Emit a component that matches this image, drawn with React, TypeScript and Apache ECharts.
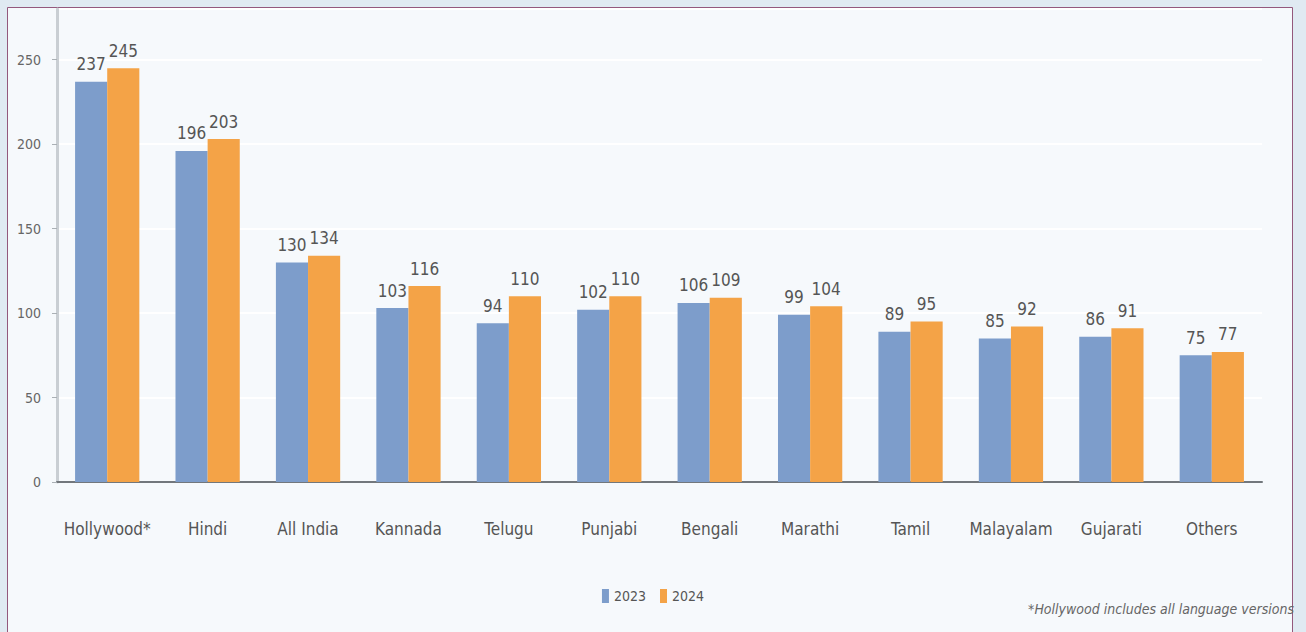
import React, { useEffect, useRef } from "react";
import * as echarts from "echarts";

const categories = ["Hollywood*", "Hindi", "All India", "Kannada", "Telugu", "Punjabi", "Bengali", "Marathi", "Tamil", "Malayalam", "Gujarati", "Others"];
const series2023 = [237, 196, 130, 103, 94, 102, 106, 99, 89, 85, 86, 75];
const series2024 = [245, 203, 134, 116, 110, 110, 109, 104, 95, 92, 91, 77];
const seriesNames = ["2023", "2024"];
const footnote = "*Hollywood includes all language versions";

const FONT = "'Liberation Sans Narrow', 'DejaVu Sans Condensed', 'Liberation Sans', sans-serif";

export default function App() {
  const ref = useRef<HTMLDivElement>(null);
  useEffect(() => {
    if (!ref.current) return;
    const chart = echarts.init(ref.current, undefined, { renderer: "svg" });
    const labelStyle = {
      show: true,
      position: "top" as const,
      distance: 9,
      color: "#555",
      fontSize: 17,
      fontFamily: FONT,
    };
    chart.setOption({
      animation: false,
      backgroundColor: "#e0eaf2",
      textStyle: { fontFamily: FONT },
      graphic: [
        {
          type: "rect",
          z: -10,
          silent: true,
          shape: { x: 7.5, y: 7.5, width: 1285, height: 640 },
          style: { fill: "#f6f9fc", stroke: "#94587c", lineWidth: 1 },
        },
        {
          type: "text",
          right: 12,
          top: 602,
          style: {
            text: footnote,
            fill: "#666",
            fontSize: 14,
            fontStyle: "italic",
            fontFamily: FONT,
          },
        },
      ],
      legend: {
        data: seriesNames,
        left: "center",
        top: 584,
        icon: "rect",
        itemWidth: 7,
        itemHeight: 14,
        itemGap: 14,
        textStyle: { color: "#555", fontSize: 14, fontFamily: FONT },
      },
      grid: { left: 57, right: 44, top: 9, bottom: 150 },
      xAxis: {
        type: "category",
        data: categories,
        axisLine: { lineStyle: { color: "#72777c", width: 2 } },
        axisTick: { show: false },
        axisLabel: { color: "#555", fontSize: 17, margin: 38, interval: 0, fontFamily: FONT },
      },
      yAxis: {
        type: "value",
        min: 0,
        max: 280,
        interval: 50,
        axisLine: { show: true, lineStyle: { color: "#c9ced3", width: 3 } },
        axisTick: { show: true, length: 5, lineStyle: { color: "#aab0b5" } },
        axisLabel: { color: "#666", fontSize: 14, margin: 16, showMaxLabel: false, fontFamily: FONT },
        splitLine: { show: true, lineStyle: { color: "#ffffff", width: 2 } },
      },
      series: [
        {
          name: seriesNames[0],
          type: "bar",
          data: series2023,
          barGap: "0%",
          barCategoryGap: "36%",
          itemStyle: { color: "#7d9dcb" },
          label: labelStyle,
        },
        {
          name: seriesNames[1],
          type: "bar",
          data: series2024,
          itemStyle: { color: "#f4a347" },
          label: labelStyle,
        },
      ],
    });
    return () => chart.dispose();
  }, []);
  return <div ref={ref} style={{ position: "fixed", left: 0, top: 0, width: 1306, height: 632 }} />;
}
